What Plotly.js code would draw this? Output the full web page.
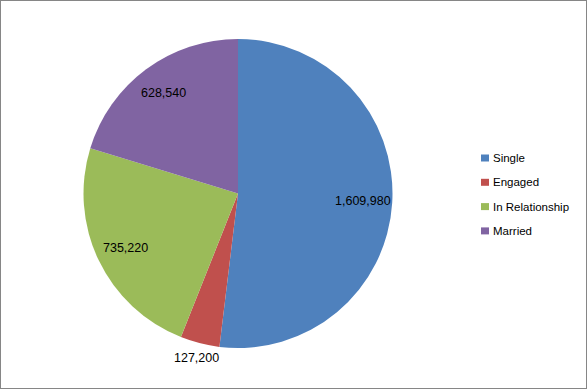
<!DOCTYPE html>
<html>
<head>
<meta charset="utf-8">
<script src="https://cdn.plot.ly/plotly-3.0.1.min.js"></script>
<style>
  html, body { margin: 0; padding: 0; background: #fff; }
  #frame { position: absolute; left: 0; top: 0; width: 585px; height: 387px; border: 1px solid #868686; pointer-events: none; }
  #chart { position: absolute; left: 0; top: 0; width: 588px; height: 390px; }
</style>
</head>
<body>
<div id="chart"></div>
<div id="frame"></div>
<script>
// ---- data ----
const categories = ["Single", "Engaged", "In Relationship", "Married"];
const values = [1609980, 127200, 735220, 628540];
const colors = ["#4F81BD", "#C0504D", "#9BBB59", "#8064A2"];
const labelOutside = [false, true, false, false];

// ---- layout geometry (pixels) ----
const W = 588, H = 390;
const CX = 238, CY = 193.5, R = 154.5;
const FONT = "Liberation Sans, Arial, sans-serif";

const px = x => x / W;
const py = y => 1 - y / H;

const trace = {
  type: "pie",
  labels: categories,
  values: values,
  sort: false,
  direction: "clockwise",
  rotation: 0,
  marker: { colors: colors, line: { color: "#ffffff", width: 0 } },
  textinfo: "none",
  hoverinfo: "none",
  showlegend: false,
  domain: { x: [px(CX - R), px(CX + R)], y: [py(CY + R), py(CY - R)] }
};

// data labels at each slice's mid-angle (derived from the values)
const total = values.reduce((a, b) => a + b, 0);
const annotations = [];
let cum = 0;
values.forEach((v, i) => {
  const mid = (cum + v / 2) / total * 2 * Math.PI;
  cum += v;
  const r = labelOutside[i] ? R + 15 : R * 0.81;
  const x = CX + r * Math.sin(mid);
  const y = CY - r * Math.cos(mid);
  annotations.push({
    xref: "paper", yref: "paper",
    x: px(x), y: py(y),
    xanchor: "center", yanchor: "middle",
    showarrow: false,
    text: v.toLocaleString("en-US"),
    font: { family: FONT, size: 12.5, color: "#000000" }
  });
});

// legend (keys + text), Excel-style
const LEG_X = 481, LEG_TOP = 158, LEG_STEP = 24.3;
const shapes = [];
categories.forEach((c, i) => {
  const yc = LEG_TOP + i * LEG_STEP;
  shapes.push({
    type: "rect", xref: "paper", yref: "paper",
    x0: px(LEG_X), x1: px(LEG_X + 8),
    y0: py(yc + 3.5), y1: py(yc - 3.5),
    fillcolor: colors[i], line: { width: 0 }
  });
  annotations.push({
    xref: "paper", yref: "paper",
    x: px(LEG_X + 10), y: py(yc),
    xanchor: "left", yanchor: "middle",
    showarrow: false,
    text: c,
    font: { family: FONT, size: 11.5, color: "#000000" }
  });
});

const layout = {
  width: W,
  height: H,
  margin: { l: 0, r: 0, t: 0, b: 0 },
  paper_bgcolor: "#ffffff",
  showlegend: false,
  annotations: annotations,
  shapes: shapes
};

Plotly.newPlot("chart", [trace], layout, { staticPlot: true });
</script>
</body>
</html>
